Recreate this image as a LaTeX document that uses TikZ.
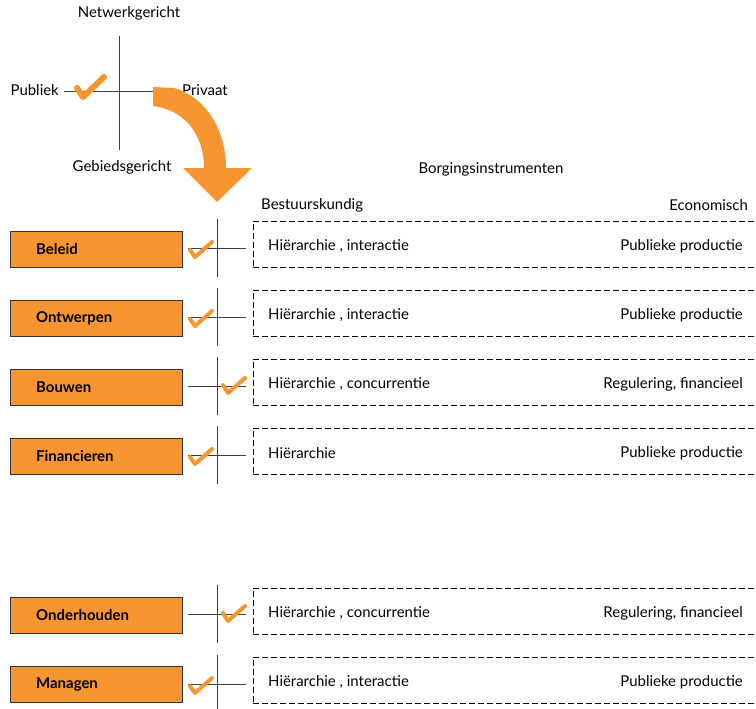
\documentclass[tikz,border=0pt]{standalone}
\usepackage{fontspec}
\setmainfont{Lato}
\usepackage{tikz}
\usepackage{xcolor}
\definecolor{borg-orange}{RGB}{247,150,48}
\tikzset{
    phase-box/.style = {draw=black!80, fill=borg-orange, rectangle, anchor=north west, minimum height=36bp, text width=120bp, inner xsep=26bp, align=left, font=\fontsize{15}{17}\selectfont\bfseries},
    instr-box/.style = {draw=black, thin, dash pattern=on 6bp off 3bp, rectangle, anchor=north west, minimum width=520bp, minimum height=46bp},
    plain-text/.style = {font=\fontsize{15}{17}\selectfont, inner sep=0pt},
    instr-text/.style = {plain-text, yshift=-2bp},
    cross-line/.style = {draw=black!75, line width=1bp},
    check-mark/.style = {draw=borg-orange, line width=4bp, line cap=round, line join=round},
}

\begin{document}
\begin{tikzpicture}[x=1bp, y=-1bp]
\useasboundingbox (0,0) rectangle (756,709);
\clip (0,0) rectangle (756,709);

% kwadrant
\draw[cross-line] (119,36) -- (119,150);
\draw[cross-line] (64,92) -- (175,92);
\node[plain-text] (netwerk) at (129,13) {Netwerkgericht};
\node[plain-text, anchor=east] (publiek) at (59,90) {Publiek};
\node[plain-text, anchor=west] (privaat) at (182,90) {Privaat};
\node[plain-text] (gebied) at (122,167) {Gebiedsgericht};
\draw[check-mark, line width=6bp] (77,88) -- (83,97) -- (104,77);
\fill[borg-orange] (153,87) -- (174,88) .. controls (204,96) and (226,128) .. (226,168)
    -- (252,168) -- (217,202) -- (183,168) -- (204,168)
    .. controls (204,136) and (186,110) .. (153,106) -- cycle;

% kopjes
\node[plain-text] (borging) at (491,169) {Borgingsinstrumenten};
\node[plain-text, anchor=west] (bestuur) at (261,205) {Bestuurskundig};
\node[plain-text, anchor=east] (econ) at (748,205) {Economisch};

% Beleid
\node[phase-box] (beleid) at (10,231) {Beleid};
\draw[cross-line] (217,219) -- (217,277);
\draw[cross-line] (188,248) -- (246,248);
\draw[check-mark] (190,250) -- (195,257) -- (212,242);
\node[instr-box] (beleid-instr) at (253,221) {};
\node[instr-text, anchor=west] at ([xshift=15bp]beleid-instr.west) {Hiërarchie , interactie};
\node[instr-text, anchor=east] at ([xshift=490bp]beleid-instr.west) {Publieke productie};

% Ontwerpen
\node[phase-box] (ontwerpen) at (10,300) {Ontwerpen};
\draw[cross-line] (217,288) -- (217,346);
\draw[cross-line] (188,317) -- (246,317);
\draw[check-mark] (190,319) -- (195,326) -- (212,311);
\node[instr-box] (ontwerpen-instr) at (253,290) {};
\node[instr-text, anchor=west] at ([xshift=15bp]ontwerpen-instr.west) {Hiërarchie , interactie};
\node[instr-text, anchor=east] at ([xshift=490bp]ontwerpen-instr.west) {Publieke productie};

% Bouwen
\node[phase-box] (bouwen) at (10,369) {Bouwen};
\draw[cross-line] (217,357) -- (217,415);
\draw[cross-line] (188,386) -- (246,386);
\draw[check-mark] (223,385) -- (228,393) -- (245,378);
\node[instr-box] (bouwen-instr) at (253,359) {};
\node[instr-text, anchor=west] at ([xshift=15bp]bouwen-instr.west) {Hiërarchie , concurrentie};
\node[instr-text, anchor=east] at ([xshift=490bp]bouwen-instr.west) {Regulering, financieel};

% Financieren
\node[phase-box] (financieren) at (10,438) {Financieren};
\draw[cross-line] (217,426) -- (217,484);
\draw[cross-line] (188,455) -- (246,455);
\draw[check-mark] (190,457) -- (195,464) -- (212,449);
\node[instr-box] (financieren-instr) at (253,428) {};
\node[instr-text, anchor=west] at ([xshift=15bp]financieren-instr.west) {Hiërarchie};
\node[instr-text, anchor=east] at ([xshift=490bp]financieren-instr.west) {Publieke productie};

% Onderhouden
\node[phase-box] (onderhouden) at (10,597) {Onderhouden};
\draw[cross-line] (217,585) -- (217,643);
\draw[cross-line] (188,614) -- (246,614);
\draw[check-mark] (223,613) -- (228,621) -- (245,606);
\node[instr-box] (onderhouden-instr) at (253,588) {};
\node[instr-text, anchor=west] at ([xshift=15bp]onderhouden-instr.west) {Hiërarchie , concurrentie};
\node[instr-text, anchor=east] at ([xshift=490bp]onderhouden-instr.west) {Regulering, financieel};

% Managen
\node[phase-box] (managen) at (10,666) {Managen};
\draw[cross-line] (217,655) -- (217,713);
\draw[cross-line] (188,684) -- (246,684);
\draw[check-mark] (190,686) -- (195,693) -- (212,678);
\node[instr-box] (managen-instr) at (253,657) {};
\node[instr-text, anchor=west] at ([xshift=15bp]managen-instr.west) {Hiërarchie , interactie};
\node[instr-text, anchor=east] at ([xshift=490bp]managen-instr.west) {Publieke productie};
\end{tikzpicture}
\end{document}
